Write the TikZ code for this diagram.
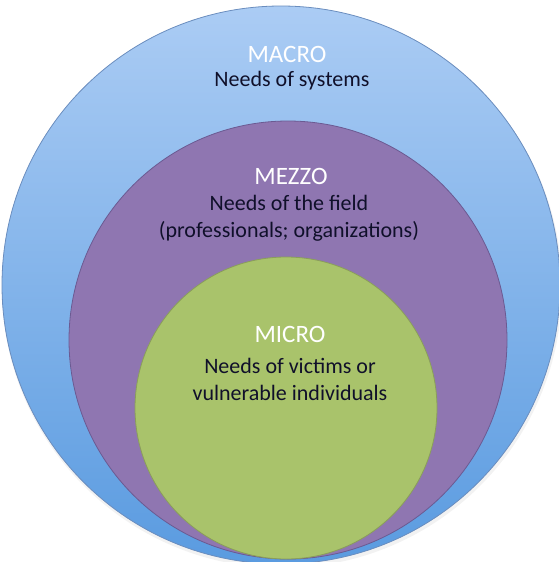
\documentclass[tikz,border=0pt]{standalone}
\usepackage{fontspec}
\setmainfont{Carlito}
\definecolor{macrotop}{HTML}{ABCCF4}
\definecolor{macrobot}{HTML}{5A9BE0}
\definecolor{macroedge}{HTML}{6A8DBE}
\definecolor{mezzofill}{HTML}{8F76B1}
\definecolor{mezzoedge}{HTML}{6B5A92}
\definecolor{microfill}{HTML}{A9C36B}
\definecolor{microedge}{HTML}{8A9E5A}
\definecolor{labeltext}{HTML}{10102A}
\tikzset{
  ring/.style={circle, inner sep=0pt, line width=0.8pt},
  head/.style={text=white, font=\fontsize{25}{28}\selectfont, inner sep=0pt},
  body/.style={text=labeltext, font=\fontsize{22}{27}\selectfont, align=center, inner sep=0pt},
}
\begin{document}
\begin{tikzpicture}[x=1pt, y=-1pt]
\useasboundingbox (0,0) rectangle (559,562);
\fill[black!25, opacity=0.2] (282,288) circle (280);
\node[ring, draw=macroedge, top color=macrotop, bottom color=macrobot, minimum size=558pt] (macro) at (281,285) {};
\node[ring, draw=mezzoedge, fill=mezzofill, minimum size=438pt] (mezzo) at (288,340) {};
\node[ring, draw=microedge, fill=microfill, minimum size=302pt] (micro) at (286,408) {};
\node[head] (macroh) at (287,54) {MACRO};
\node[body] (macrob) at (292,81) {Needs of systems};
\node[head] (mezzoh) at (291,176) {MEZZO};
\node[body] (mezzob) at (289,218) {Needs of the field\\(professionals; organizations)};
\node[head] (microh) at (290,334) {MICRO};
\node[body] (microb) at (290,379) {Needs of victims or\\vulnerable individuals};
\end{tikzpicture}
\end{document}
